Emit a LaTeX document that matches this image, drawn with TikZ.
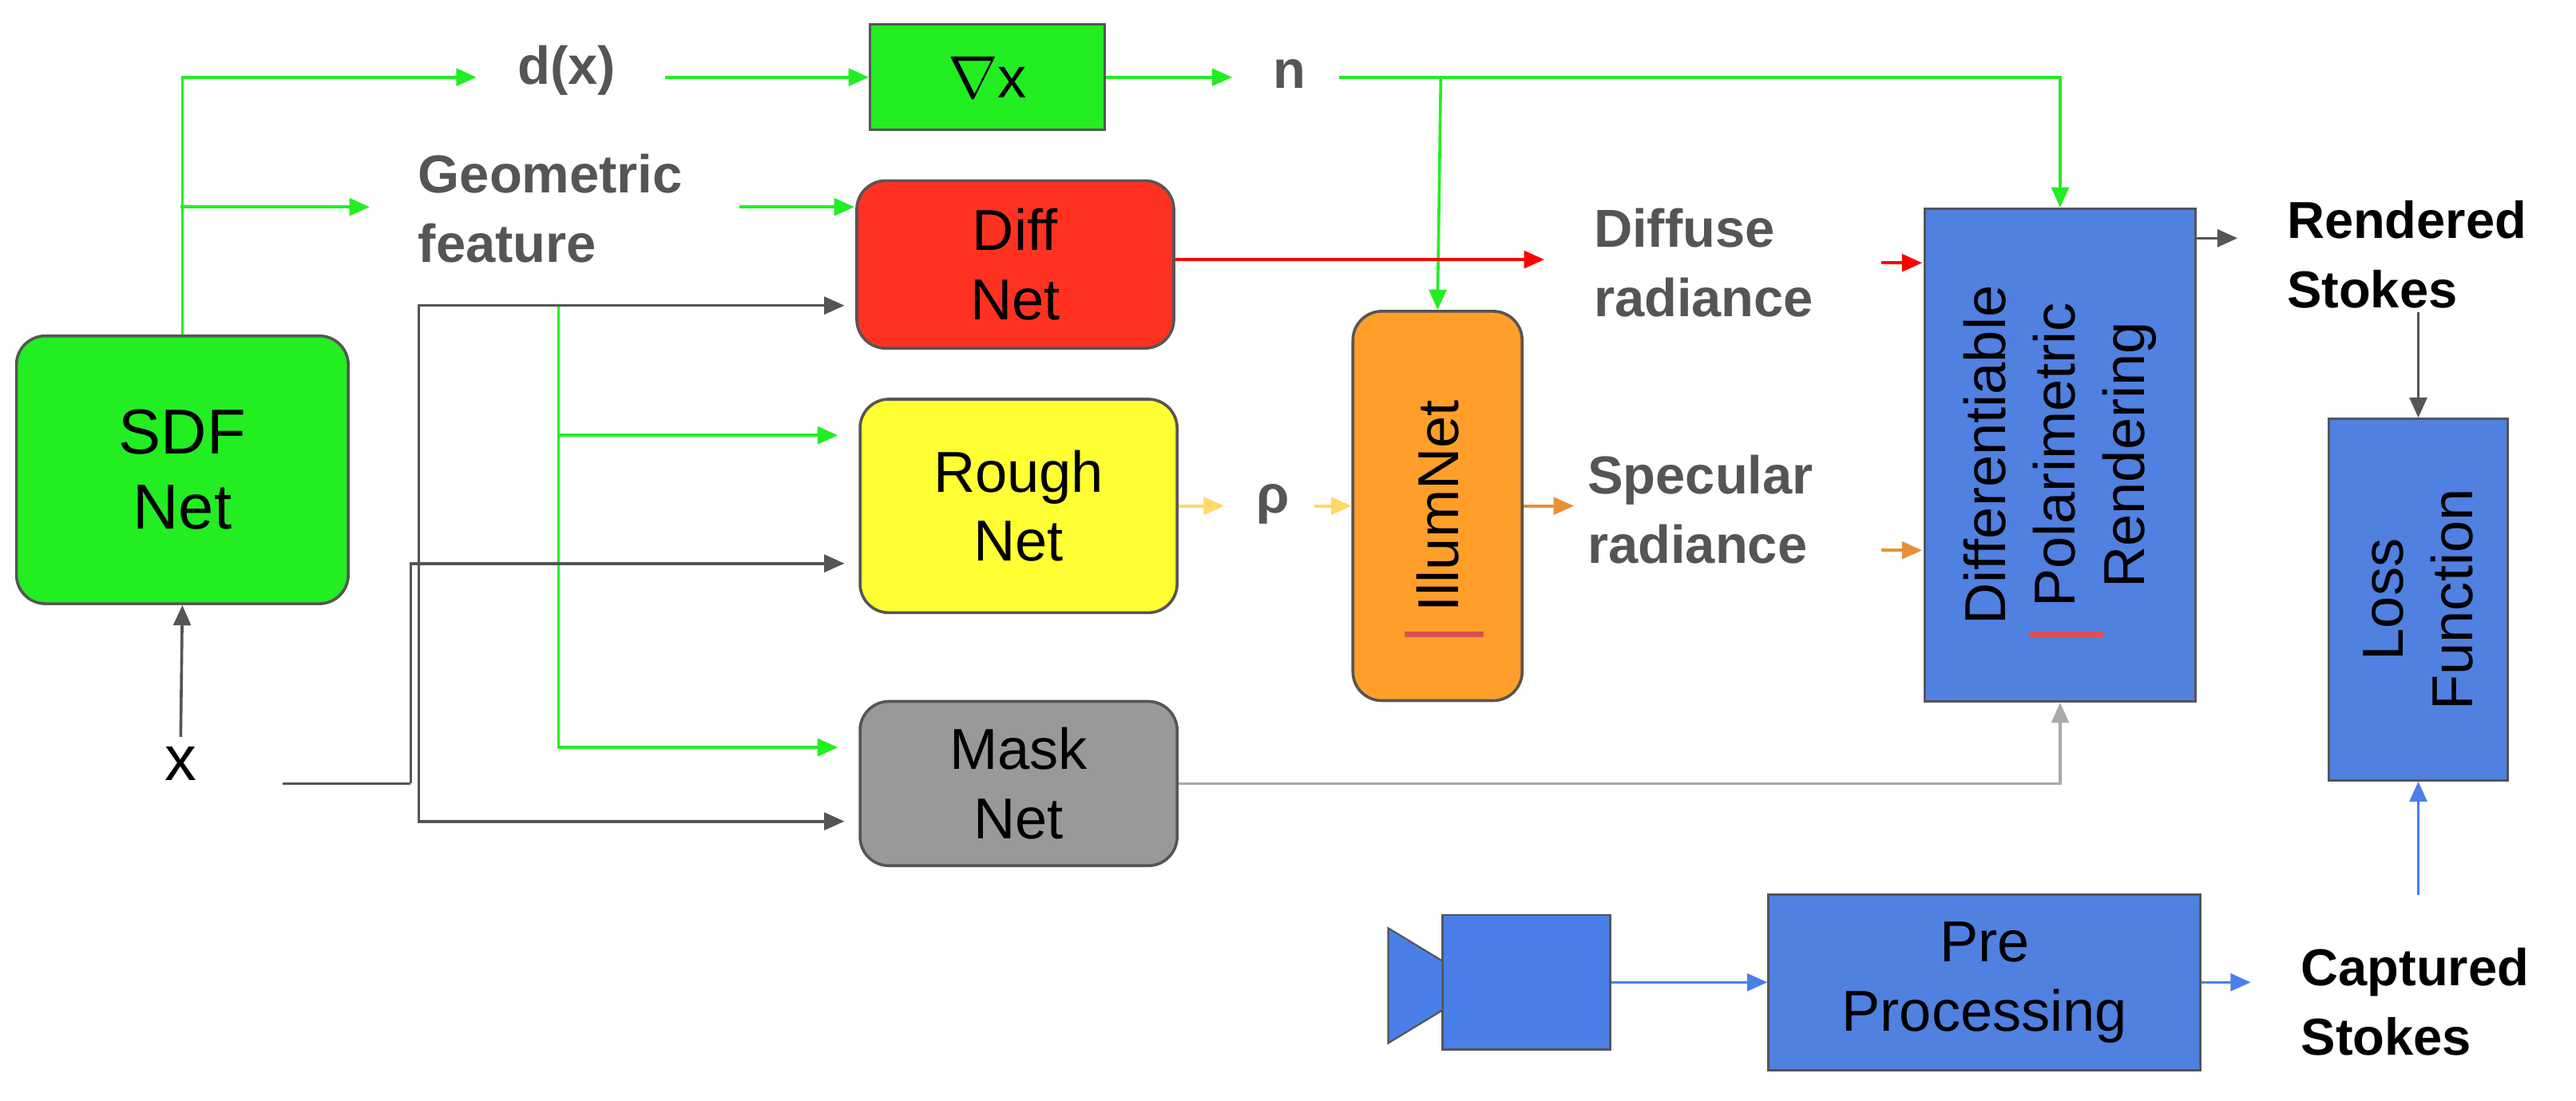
\documentclass[tikz,border=0pt]{standalone}
\usepackage{fontspec}
\setmainfont{Liberation Sans}
\usetikzlibrary{arrows.meta}
\definecolor{gr}{HTML}{22EE22}
\definecolor{bl}{HTML}{5080E0}
\definecolor{cb}{HTML}{4A7FE8}
\definecolor{lab}{HTML}{555555}
\definecolor{ln}{HTML}{555555}
\definecolor{rd}{HTML}{FF3222}
\definecolor{yl}{HTML}{FFFF33}
\definecolor{gy}{HTML}{999999}
\definecolor{og}{HTML}{FF9F2A}
\definecolor{ul}{HTML}{DC5050}
\definecolor{ya}{HTML}{FFD966}
\definecolor{oa}{HTML}{E69138}
\definecolor{la}{HTML}{AAAAAA}
\begin{document}
\begin{tikzpicture}[x=0.02cm,y=-0.02cm,
 box/.style={draw=ln,line width=1pt,rounded corners=10pt,inner sep=0,align=center,font=\fontsize{20}{24}\selectfont},
 sq/.style={draw=ln,line width=0.8pt,inner sep=0,align=center,font=\fontsize{20}{24}\selectfont},
 lbl/.style={text=lab,font=\bfseries\fontsize{18.5}{24}\selectfont,align=left,inner sep=1pt},
 blk/.style={font=\bfseries\fontsize{18}{24}\selectfont,align=left,inner sep=1pt},
 a/.style={-{Triangle[length=7pt,width=6pt]},line width=1pt}]
\useasboundingbox (0,0) rectangle (1568,670);
\node[box,fill=gr,minimum width=202*0.02cm,minimum height=163*0.02cm,font=\fontsize{22}{26}\selectfont] (sdf) at (111,286) {SDF\\Net};
\node[font=\fontsize{22}{26}\selectfont] (x) at (110,465) {x};
\node[sq,fill=gr,minimum width=143*0.02cm,minimum height=64*0.02cm] (grad) at (601,47) {$\nabla$x};
\node[box,fill=rd,minimum width=193*0.02cm,minimum height=102*0.02cm] (diff) at (618,161) {Diff\\Net};
\node[box,fill=yl,minimum width=193*0.02cm,minimum height=130*0.02cm] (rough) at (620,308) {Rough\\Net};
\node[box,fill=gy,minimum width=193*0.02cm,minimum height=100*0.02cm] (mask) at (620,477) {Mask\\Net};
\node[box,fill=og,minimum width=103*0.02cm,minimum height=237*0.02cm] (illum) at (875,308) {};
\node[rotate=90,font=\fontsize{20}{24}\selectfont] at (illum) {IllumNet};
\node[sq,fill=bl,minimum width=165*0.02cm,minimum height=300*0.02cm] (rend) at (1254,277) {};
\node[rotate=90,font=\fontsize{20}{24}\selectfont,align=center] at (rend) {Differentiable\\Polarimetric\\Rendering};
\node[sq,fill=bl,minimum width=109*0.02cm,minimum height=220*0.02cm] (loss) at (1472,365) {};
\node[rotate=90,font=\fontsize{20}{24}\selectfont,align=center] at (loss) {Loss\\Function};
\node[sq,fill=bl,minimum width=263*0.02cm,minimum height=107*0.02cm] (pre) at (1208,598) {Pre\\Processing};
\node[sq,fill=cb,minimum width=102*0.02cm,minimum height=82*0.02cm] (cam) at (929,598) {};
\fill[cb,draw=ln,line width=0.6pt] (845,565)--(878,585)--(878,615)--(845,635)--cycle;
\draw[ul,line width=2pt] (855,386)--(903,386);
\draw[ul,line width=2pt] (1235,386)--(1280,386);
% labels
\node[lbl] (dx) at (345,43) {d(x)};
\node[lbl] (n) at (785,45) {n};
\node[lbl] (geo) at (335,127) {Geometric\\feature};
\node[lbl] (dr) at (1037,160) {Diffuse\\radiance};
\node[lbl] (sr) at (1035,310) {Specular\\radiance};
\node[lbl] (rho) at (775,307) {ρ};
\node[blk] (rs) at (1465,155) {Rendered\\Stokes};
\node[blk] (cs) at (1470,610) {Captured\\Stokes};
% green
\draw[gr,a] (sdf.north) |- (290,47);
\draw[gr,a] (405,47) -- (grad.west);
\draw[gr,a] (grad.east) -- (750,47);
\draw[gr,a] (815,47) -| (rend.north);
\draw[gr,a] (877,47) -- (illum.north);
\draw[gr,a] (110,126) -- (225,126);
\draw[gr,a] (450,126) -- (520,126);
\draw[gr,a] (340,186) |- (510,455);
\draw[gr,a] (340,265) -- (510,265);
% gray from x
\draw[ln,line width=1pt] (172,477) -- (250,477);
\draw[ln,a] (255,477) |- (514,186);
\draw[ln,a] (250,477) |- (514,343);
\draw[ln,a] (255,477) |- (514,500);
\draw[ln,a] (x.north) -- (sdf.south);
% others
\draw[red,a] (diff.east |- 0,158) -- (940,158);
\draw[red,a] (1145,160) -- (1170,160);
\draw[ya,a] (rough.east) -- (745,308);
\draw[ya,a] (800,308) -- (illum.west);
\draw[oa,a] (illum.east |- 0,308) -- (958,308);
\draw[oa,a] (1145,335) -- (1170,335);
\draw[la,a] (mask.east) -| (rend.south);
\draw[ln,a] (1337,145) -- (1362,145);
\draw[ln,a] (loss.north |- 0,190) -- (loss.north);
\draw[cb,a] (cam.east) -- (pre.west);
\draw[cb,a] (pre.east) -- (1370,598);
\draw[cb,a] (loss.south |- 0,545) -- (loss.south);
\end{tikzpicture}
\end{document}
